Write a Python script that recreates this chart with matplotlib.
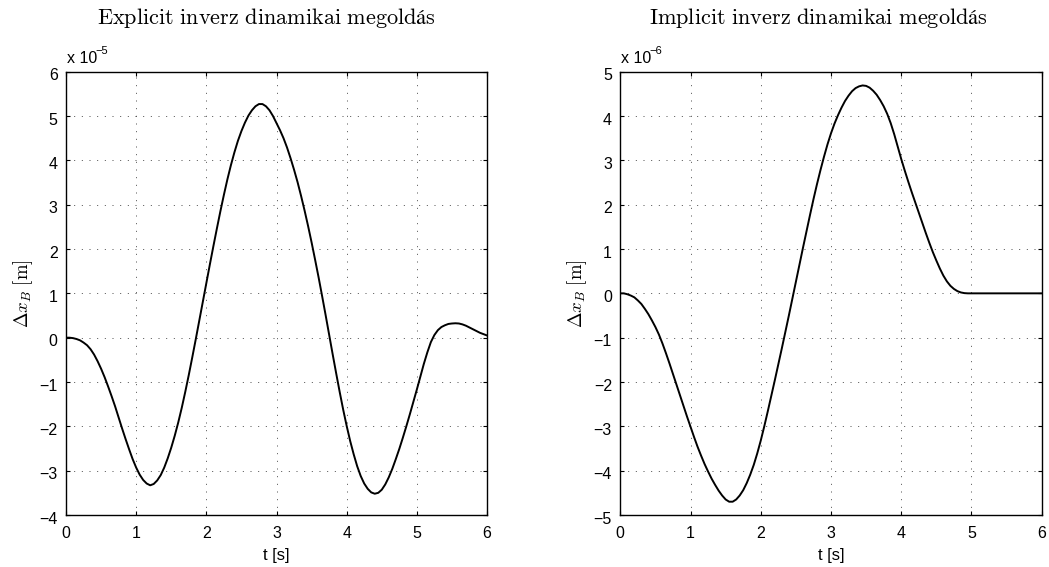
import matplotlib
matplotlib.use("Agg")
import matplotlib.pyplot as plt
import matplotlib.transforms as mtransforms

# Time axis samples [s], 0.05 s step
t = [i / 20 for i in range(121)]

# Explicit inverse dynamics solution, Delta x_B in units of 1e-5 m
explicit_dx = [
    0.00, 0.00, -0.01, -0.03, -0.06, -0.11, -0.17, -0.26, -0.38, -0.53,
    -0.70, -0.89, -1.10, -1.32, -1.55, -1.80, -2.05, -2.29, -2.52, -2.74,
    -2.93, -3.09, -3.21, -3.29, -3.33, -3.30, -3.22, -3.10, -2.93, -2.72,
    -2.48, -2.21, -1.91, -1.58, -1.22, -0.84, -0.44, -0.03, 0.39, 0.81,
    1.23, 1.65, 2.06, 2.46, 2.85, 3.22, 3.57, 3.89, 4.18, 4.44,
    4.66, 4.85, 5.01, 5.13, 5.22, 5.27, 5.27, 5.22, 5.13, 5.00,
    4.84, 4.68, 4.50, 4.29, 4.05, 3.79, 3.51, 3.20, 2.87, 2.52,
    2.15, 1.76, 1.36, 0.94, 0.51, 0.07, -0.37, -0.80, -1.22, -1.62,
    -1.99, -2.33, -2.63, -2.90, -3.12, -3.29, -3.41, -3.49, -3.52, -3.50,
    -3.43, -3.31, -3.15, -2.96, -2.74, -2.51, -2.26, -2.00, -1.73, -1.45,
    -1.17, -0.88, -0.59, -0.33, -0.10, 0.06, 0.17, 0.24, 0.28, 0.31,
    0.32, 0.325, 0.32, 0.30, 0.27, 0.23, 0.19, 0.15, 0.11, 0.08,
    0.05,
]

# Implicit inverse dynamics solution, Delta x_B in units of 1e-6 m
implicit_dx = [
    0.00, 0.00, -0.02, -0.05, -0.09, -0.16, -0.24, -0.35, -0.47, -0.61,
    -0.76, -0.93, -1.13, -1.35, -1.58, -1.82, -2.06, -2.30, -2.54, -2.78,
    -3.01, -3.24, -3.46, -3.66, -3.85, -4.02, -4.18, -4.32, -4.45, -4.56,
    -4.65, -4.70, -4.70, -4.65, -4.56, -4.44, -4.28, -4.09, -3.87, -3.61,
    -3.32, -3.00, -2.66, -2.31, -1.96, -1.60, -1.24, -0.87, -0.50, -0.12,
    0.26, 0.64, 1.02, 1.39, 1.76, 2.12, 2.46, 2.78, 3.08, 3.36,
    3.61, 3.83, 4.02, 4.19, 4.34, 4.46, 4.56, 4.63, 4.67, 4.69,
    4.68, 4.64, 4.57, 4.48, 4.36, 4.22, 4.05, 3.84, 3.59, 3.31,
    3.03, 2.77, 2.52, 2.28, 2.05, 1.82, 1.59, 1.36, 1.14, 0.93,
    0.74, 0.56, 0.40, 0.27, 0.17, 0.10, 0.05, 0.02, 0.005, 0.00,
    0.00, 0.00, 0.00, 0.00, 0.00, 0.00, 0.00, 0.00, 0.00, 0.00,
    0.00, 0.00, 0.00, 0.00, 0.00, 0.00, 0.00, 0.00, 0.00, 0.00,
    0.00,
]

titles = [r"$\mathrm{Explicit\ inverz\ dinamikai\ megoldás}$",
          r"$\mathrm{Implicit\ inverz\ dinamikai\ megoldás}$"]
exponents = ["\u22125", "\u22126"]
scales = [1e-5, 1e-6]
yticks = [list(range(-4, 7)), list(range(-5, 6))]
ylims = [(-4, 6), (-5, 5)]
xticks = list(range(0, 7))

plt.rcParams["font.family"] = ["Liberation Sans", "DejaVu Sans"]
plt.rcParams["mathtext.fontset"] = "cm"

fig = plt.figure(figsize=(10.49, 5.67), dpi=100)
ax_rects = [
    [66 / 1049, 52 / 567, 421 / 1049, 443.3 / 567],
    [620.3 / 1049, 52 / 567, 421.4 / 1049, 443.3 / 567],
]
title_x = [0.477, 0.469]
# y tick labels sit slightly below their ticks
ylabel_shift = mtransforms.ScaledTranslation(0, -0.025, fig.dpi_scale_trans)

for k, (rect, y, scale) in enumerate(zip(ax_rects, [explicit_dx, implicit_dx], scales)):
    ax = fig.add_axes(rect)
    ax.plot(t, [v * scale for v in y], color="black", lw=1.4)
    ax.set_xlim(0, 6)
    lo, hi = ylims[k]
    ax.set_ylim(lo * scale, hi * scale)
    ax.set_xticks(xticks)
    ax.set_xticklabels([str(v) for v in xticks])
    ax.set_yticks([v * scale for v in yticks[k]])
    ax.set_yticklabels([str(v).replace("-", "\u2212") for v in yticks[k]])
    ax.tick_params(direction="in", length=3, width=0.8, labelsize=11.5,
                   top=True, right=True)
    ax.tick_params(axis="x", pad=8)
    ax.tick_params(axis="y", pad=6)
    for lab in ax.get_yticklabels():
        lab.set_transform(lab.get_transform() + ylabel_shift)
    ax.grid(True, color="#333333", lw=0.6, linestyle=(0, (1.2, 8.0)))
    for s in ax.spines.values():
        s.set_linewidth(1.0)
    ax.set_xlabel("t [s]", fontsize=12, labelpad=5)
    ax.set_ylabel(r"$\Delta x_B\ [\mathrm{m}]$", fontsize=13.5, labelpad=3)
    ax.set_title(titles[k], fontsize=16, x=title_x[k], pad=34)
    # exponent multiplier above the y axis
    ax.text(0.002, 1 + 9 / 443.3, "x 10", transform=ax.transAxes, fontsize=11.5,
            ha="left", va="baseline")
    ax.text(0.0689, 1 + 18 / 443.3, exponents[k], transform=ax.transAxes,
            fontsize=8, ha="left", va="baseline")

fig.savefig("out.png", dpi=100)
